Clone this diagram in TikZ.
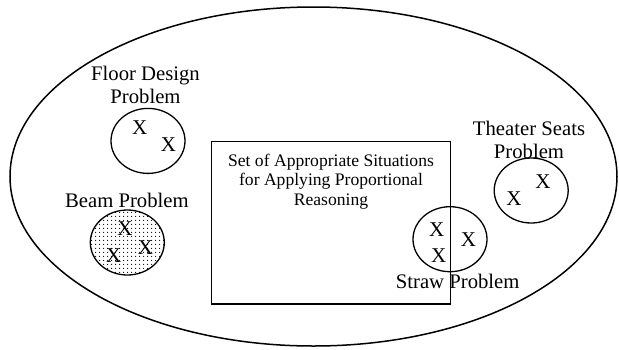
\documentclass[tikz,border=0pt]{standalone}
\usepackage{fontspec}
\setmainfont{Liberation Serif}
\usetikzlibrary{shapes.geometric,patterns}
% sparse dot grid used as shading for the beam problem
\pgfdeclarepatternformonly{sparsedots}{\pgfpointorigin}{\pgfqpoint{3.6pt}{3.6pt}}{\pgfqpoint{3.6pt}{3.6pt}}{%
  \pgfpathcircle{\pgfqpoint{1.8pt}{1.8pt}}{0.6pt}\pgfusepath{fill}}
\begin{document}
\begin{tikzpicture}[x=1pt,y=-1pt,
  oval/.style={ellipse, draw, line width=1.3pt, minimum width=74pt, minimum height=65pt, inner sep=0pt},
  lbl/.style={font=\fontsize{20.7}{23.8}\selectfont, align=center, inner sep=0pt},
  xmark/.style={font=\fontsize{21}{24}\selectfont, inner sep=0pt},
  boxtext/.style={font=\fontsize{17.6}{19.5}\selectfont, align=center, inner sep=0pt}]
\useasboundingbox (0,0) rectangle (619,349);

% universe of all situations
\node[ellipse, draw, line width=1.5pt, minimum width=607pt, minimum height=339pt, inner sep=0pt] (universe) at (313.5,176.5) {};

% set of appropriate situations
\node[draw, line width=1.5pt, minimum width=238.9pt, minimum height=162.8pt, inner sep=0pt] (setbox) at (331.15,222.7) {};
\node[boxtext] (settext) at (331,181.5) {Set of Appropriate Situations\\for Applying Proportional\\Reasoning};

% floor design problem
\node[oval] (floor) at (148,140.9) {};
\node[lbl] (floorlbl) at (145.5,85) {Floor Design\\Problem};
\node[xmark] (fx1) at (139.6,128.1) {X};
\node[xmark] (fx2) at (168.5,144.7) {X};

% beam problem
\node[oval, pattern=sparsedots] (beam) at (127.3,242.5) {};
\node[lbl] (beamlbl) at (126.9,200.1) {Beam Problem};
\node[xmark] (bx1) at (124.9,228.2) {X};
\node[xmark] (bx2) at (113.8,255.2) {X};
\node[xmark] (bx3) at (145.5,248) {X};

% theater seats problem
\node[oval] (theater) at (531.2,190.5) {};
\node[lbl] (theaterlbl) at (529,140) {Theater Seats\\Problem};
\node[xmark] (tx1) at (514,199.1) {X};
\node[xmark] (tx2) at (542.9,182) {X};

% straw problem
\node[oval] (straw) at (450,239.2) {};
\node[lbl] (strawlbl) at (457.7,281.6) {Straw Problem};
\node[xmark] (sx1) at (436.7,229.8) {X};
\node[xmark] (sx2) at (438.7,255.2) {X};
\node[xmark] (sx3) at (468.4,239.4) {X};
\end{tikzpicture}
\end{document}
